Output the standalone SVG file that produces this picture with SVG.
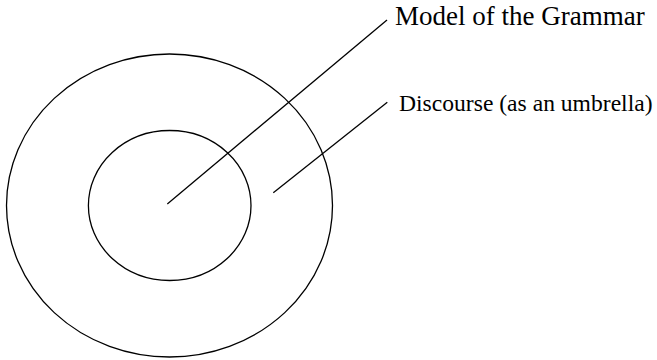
<svg xmlns="http://www.w3.org/2000/svg" width="657" height="360" viewBox="0 0 657 360">
<style>
.shape{fill:none;stroke:#000;stroke-width:1.3}
.conn{stroke:#000;stroke-width:1.3;fill:none}
text{font-family:"Liberation Serif","Times New Roman",serif;fill:#000}
</style>
<rect width="657" height="360" fill="#fff"/>
<g id="outer"><ellipse class="shape" cx="169.5" cy="205.5" rx="163" ry="151.5"/></g>
<g id="inner"><ellipse class="shape" cx="169.7" cy="205.5" rx="81.3" ry="75"/></g>
<g id="connectors">
<line class="conn" x1="167.3" y1="204" x2="387" y2="20"/>
<line class="conn" x1="273.3" y1="192.7" x2="387.3" y2="102.3"/>
</g>
<g id="label-model"><text x="395" y="25" font-size="27">Model of the Grammar</text></g>
<g id="label-discourse"><text x="399" y="110.5" font-size="23.6">Discourse (as an umbrella)</text></g>
</svg>
